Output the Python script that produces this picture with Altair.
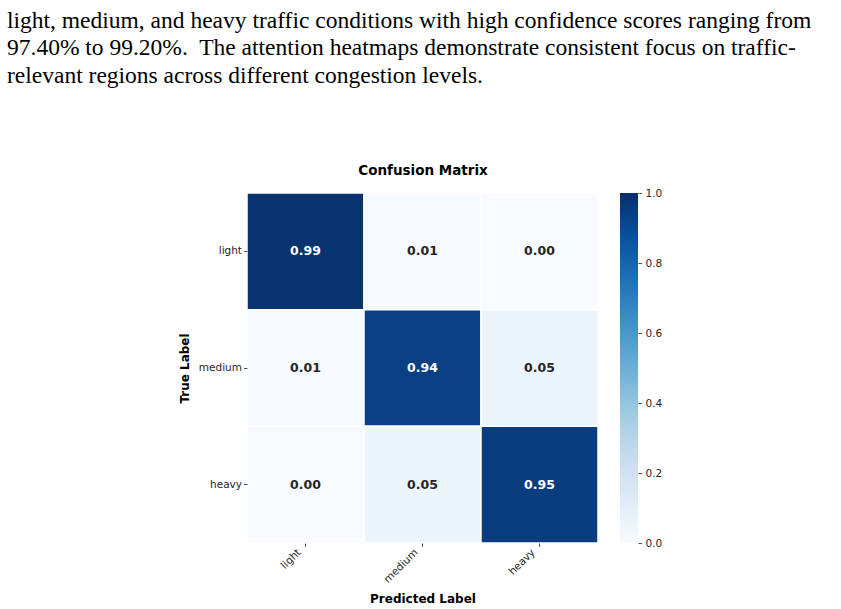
import altair as alt
import pandas as pd

# ---- data ----
class_labels = ["light", "medium", "heavy"]
row_light = [0.99, 0.01, 0.00]
row_medium = [0.01, 0.94, 0.05]
row_heavy = [0.00, 0.05, 0.95]
matrix = [row_light, row_medium, row_heavy]

paragraph_lines = [
    "light, medium, and heavy traffic conditions with high confidence scores ranging from",
    "97.40% to 99.20%.\u00a0 The attention heatmaps demonstrate consistent focus on traffic-",
    "relevant regions across different congestion levels.",
]
colorbar_ticks = [0.0, 0.2, 0.4, 0.6, 0.8, 1.0]
colorbar_range = [0.0, 1.0]
blues_domain = [0.0, 0.125, 0.25, 0.375, 0.5, 0.625, 0.75, 0.875, 1.0]
blues_range = ["#f7fbff", "#deebf7", "#c6dbef", "#9ecae1", "#6baed6",
               "#4292c6", "#2171b5", "#08519c", "#08306b"]

rows = []
for i, t in enumerate(class_labels):
    for j, p in enumerate(class_labels):
        rows.append({"true": t, "pred": p, "value": matrix[i][j]})
df = pd.DataFrame(rows)

band = alt.Scale(paddingInner=0, paddingOuter=0)
base = alt.Chart(df)

cells = base.mark_rect(stroke="white", strokeWidth=1.5).encode(
    x=alt.X("pred:N", sort=class_labels, scale=band,
            axis=alt.Axis(orient="bottom", title="Predicted Label",
                          labelAngle=315, labelAlign="right", labelBaseline="alphabetic",
                          labelPadding=6, labelOffset=-4, titlePadding=9)),
    y=alt.Y("true:N", sort=class_labels, scale=band,
            axis=alt.Axis(title="True Label", labelAngle=0, labelPadding=2,
                          titlePadding=7)),
    color=alt.Color("value:Q",
                    scale=alt.Scale(domain=blues_domain, range=blues_range),
                    legend=None),
)

annot = base.mark_text(font="DejaVu Sans", fontSize=12.5, fontWeight="bold").encode(
    x=alt.X("pred:N", sort=class_labels, scale=band,
            axis=alt.Axis(orient="top", title="Confusion Matrix", labels=False,
                          ticks=False, domain=False, titlePadding=16,
                          titleFontSize=13.5, titleColor="black")),
    y=alt.Y("true:N", sort=class_labels, scale=band),
    text=alt.Text("value:Q", format=".2f"),
    color=alt.condition(alt.datum.value > 0.5, alt.value("white"), alt.value("#262626")),
)

heat = alt.layer(cells, annot).resolve_axis(x="independent").properties(
    width=351, height=350)

# ---- colorbar ----
cbar_df = pd.DataFrame({"lo": [colorbar_range[0]], "hi": [colorbar_range[1]]})
gradient = alt.LinearGradient(
    gradient="linear", x1=0, x2=0, y1=1, y2=0,
    stops=[alt.GradientStop(offset=o, color=c) for o, c in zip(blues_domain, blues_range)],
)
cbar = alt.Chart(cbar_df).mark_rect(color=gradient).encode(
    y=alt.Y("lo:Q", scale=alt.Scale(domain=colorbar_range, nice=False, zero=False),
            axis=alt.Axis(orient="right", title=None, values=colorbar_ticks,
                          format=".1f", labelPadding=3.5, labelBaseline="middle",
                          labelFlush=False)),
    y2="hi:Q",
).properties(width=18, height=350)

chart = (
    alt.hconcat(heat, cbar, spacing=22, bounds="flush")
    .properties(
        padding={"left": 7, "top": 8, "right": 10, "bottom": 5},
        title=alt.TitleParams(
            text=paragraph_lines, anchor="start", frame="group", dx=-240,
            font="Liberation Serif", fontSize=23.5, fontWeight="normal",
            lineHeight=27.5, color="black", offset=76,
        ),
    )
    .configure_view(strokeWidth=0)
    .configure_axis(
        labelFont="DejaVu Sans", labelFontSize=10.5, labelColor="#262626",
        titleFont="DejaVu Sans", titleFontSize=12, titleFontWeight="bold",
        titleColor="black", tickColor="#262626", tickSize=3.5, tickWidth=0.8,
        domain=False, grid=False,
    )
)

chart.save("out.html", embed_options={"renderer": "svg", "actions": False})
